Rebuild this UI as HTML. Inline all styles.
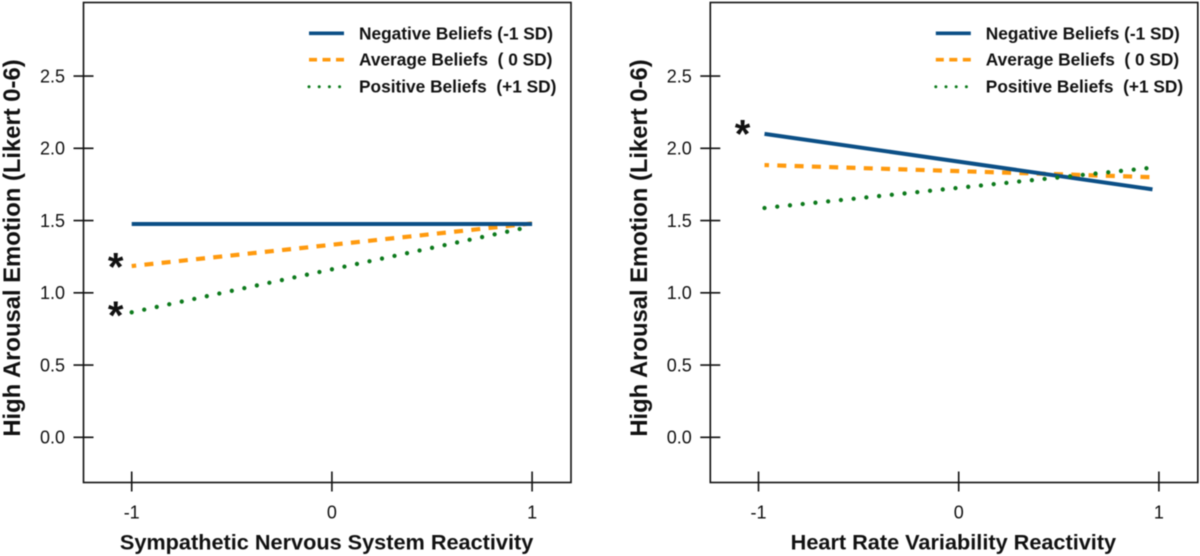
<!DOCTYPE html>
<html lang="en">
<head>
<meta charset="utf-8">
<title>High Arousal Emotion by Reactivity and Beliefs</title>
<style>
html,body{margin:0;padding:0;background:#fff;width:1200px;height:556px;overflow:hidden}
svg{display:block;filter:blur(.4px)}
text{font-family:"Liberation Sans",Arial,sans-serif;fill:#111}
</style>
</head>
<body>
<svg id="chart" xmlns="http://www.w3.org/2000/svg" width="1200" height="556" viewBox="0 0 1200 556"></svg>
<script>
const yTicks = [0, 0.5, 1, 1.5, 2, 2.5];
const yTickLabels = ['0.0', '0.5', '1.0', '1.5', '2.0', '2.5'];
const xTicks = [-1, 0, 1];
const xTickLabels = ['-1', '0', '1'];
const legendLabels = ['Negative Beliefs (-1 SD)', 'Average Beliefs  ( 0 SD)', 'Positive Beliefs  (+1 SD)'];
const seriesKeys = ['negative', 'average', 'positive'];

const leftX = [-1, 1];
const leftNegative = [1.476, 1.476];
const leftAverage = [1.185, 1.48];
const leftPositive = [0.865, 1.46];
const leftStarX = [-1.08, -1.08];
const leftStarY = [1.208, 0.874];

const rightX = [-0.97, 0.968];
const rightNegative = [2.10, 1.716];
const rightAverage = [1.884, 1.80];
const rightPositive = [1.587, 1.866];
const rightStarX = [-1.08];
const rightStarY = [2.13];

const svg = document.getElementById('chart');
const NS = 'http://www.w3.org/2000/svg';

function make(tag, parent) {
  const el = document.createElementNS(NS, tag);
  parent.appendChild(el);
  return el;
}
function setAll(el, props) {
  Object.keys(props).forEach(function (k) { el.setAttribute(k, props[k]); });
}
const styles = {
  negative: { stroke: '#0b4f86', width: 4, dash: null, cap: 'butt', offset: 0 },
  average: { stroke: '#ff9a0e', width: 4.2, dash: '9 8.3', cap: 'butt', offset: 4.5 },
  positive: { stroke: '#0d7a1c', width: 4.3, dash: '0 12.8', cap: 'round', offset: 0 }
};
const drawOrder = ['average', 'negative', 'positive'];

function drawPanel(panelName, left, xTitle, xVals, values, starX, starY) {
  const top = 2.5, right = left + 487.5, bottom = 482.5;
  const xScale = function (v) { return left + 248.4 + v * 200.2; };
  const yScale = function (v) { return 437.3 - v * 144.5; };

  const g = make('g', svg);
  
  

  const frame = make('rect', g);
  
  
  setAll(frame, { x: left, y: top, width: right - left, height: bottom - top, fill: 'none', stroke: '#111', 'stroke-width': 1.6 });

  yTicks.forEach(function (t, i) {
    const tick = make('line', g);
    
    
    setAll(tick, { x1: left - 10, x2: left + 10, y1: yScale(t), y2: yScale(t), stroke: '#111', 'stroke-width': 1.6 });
    const label = make('text', g);
    
    
    setAll(label, { x: left - 18.5, y: yScale(t) + 6.3, 'text-anchor': 'end', 'font-size': 18 });
    label.textContent = yTickLabels[i];
  });

  xTicks.forEach(function (t, i) {
    const tick = make('line', g);
    
    
    setAll(tick, { x1: xScale(t), x2: xScale(t), y1: 471.5, y2: 491.5, stroke: '#111', 'stroke-width': 1.6 });
    const label = make('text', g);
    
    
    setAll(label, { x: xScale(t), y: 518.5, 'text-anchor': 'middle', 'font-size': 18 });
    label.textContent = xTickLabels[i];
  });

  const xAxisTitle = make('text', g);
  
  
  setAll(xAxisTitle, { x: xScale(0) - 5.3, y: 549.5, 'text-anchor': 'middle', 'font-size': 21.7, 'font-weight': 'bold' });
  xAxisTitle.textContent = xTitle;

  const yAxisTitle = make('text', g);
  
  
  setAll(yAxisTitle, { transform: 'translate(' + (left - 63.5) + ' 248) rotate(-90)', 'text-anchor': 'middle', 'font-size': 23.8, 'font-weight': 'bold' });
  yAxisTitle.textContent = 'High Arousal Emotion (Likert 0-6)';

  drawOrder.forEach(function (key) {
    const s = styles[key];
    const vals = values[key];
    const line = make('line', g);
    
    
    setAll(line, {
      x1: xScale(xVals[0]), y1: yScale(vals[0]),
      x2: xScale(xVals[1]), y2: yScale(vals[1]),
      stroke: s.stroke, 'stroke-width': s.width, 'stroke-linecap': s.cap
    });
    if (s.dash) {
      line.setAttribute('stroke-dasharray', s.dash);
      line.setAttribute('stroke-dashoffset', s.offset);
    }
  });

  starX.forEach(function (sx, i) {
    const star = make('text', g);
    
    
    setAll(star, { x: xScale(sx), y: yScale(starY[i]) + 18, 'text-anchor': 'middle', 'font-size': 40, 'font-weight': 'bold' });
    star.textContent = '*';
  });

  seriesKeys.forEach(function (key, i) {
    const s = styles[key];
    const rowY = [33.3, 59.7, 86.7][i];
    const entry = make('g', g);
    
    
    const swatch = make('line', entry);
    
    
    setAll(swatch, { x1: left + 225.5, x2: left + 260.5, y1: rowY, y2: rowY, stroke: s.stroke, 'stroke-width': key === 'positive' ? 3 : 3.6, 'stroke-linecap': s.cap });
    if (key === 'average') swatch.setAttribute('stroke-dasharray', '8 5.5');
    if (key === 'positive') swatch.setAttribute('stroke-dasharray', '0 10.2');
    const label = make('text', entry);
    
    
    setAll(label, { x: left + 275.5, y: rowY + 6, 'font-size': 17.3, 'font-weight': 'bold' });
    label.setAttribute('xml:space', 'preserve');
    label.style.whiteSpace = 'pre';
    label.textContent = legendLabels[i];
  });
}

drawPanel('left-panel', 83.5, 'Sympathetic Nervous System Reactivity', leftX,
  { negative: leftNegative, average: leftAverage, positive: leftPositive }, leftStarX, leftStarY);
drawPanel('right-panel', 710.3, 'Heart Rate Variability Reactivity', rightX,
  { negative: rightNegative, average: rightAverage, positive: rightPositive }, rightStarX, rightStarY);
</script>
</body>
</html>
